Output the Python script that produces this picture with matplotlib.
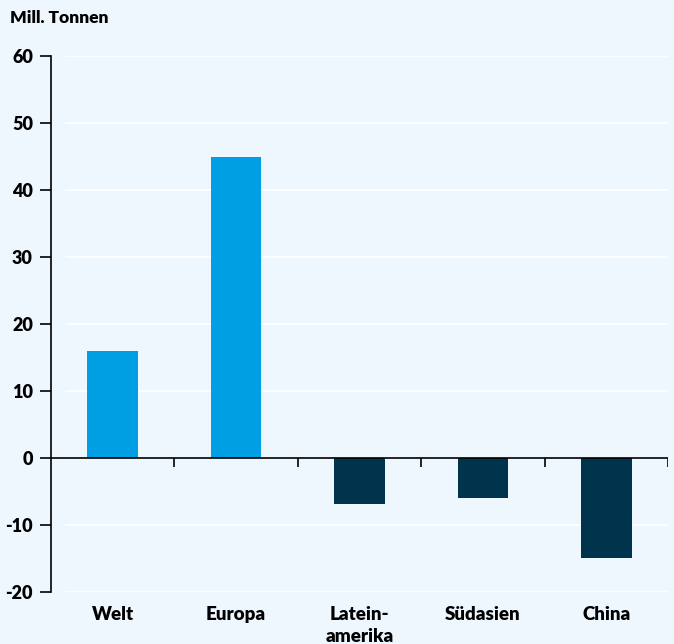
import matplotlib.pyplot as plt

plt.rcParams['font.family'] = ['Lato', 'DejaVu Sans']
plt.rcParams['font.weight'] = 'bold'

regions = ['Welt', 'Europa', 'Latein-\namerika', 'Südasien', 'China']
values = [15.9, 44.9, -6.9, -5.9, -14.9]
bar_colors = ['#009fe3', '#009fe3', '#00344d', '#00344d', '#00344d']
yticks = [-20, -10, 0, 10, 20, 30, 40, 50, 60]

bg = '#eef6fe'
fig = plt.figure(figsize=(6.74, 6.44), dpi=100, facecolor=bg)
ax = fig.add_axes([51 / 674, 1 - 592 / 644, 617 / 674, 536 / 644], facecolor=bg)

xs = [i + 0.5 for i in range(len(regions))]
for t in yticks:
    if t != 0:
        ax.axhline(t, xmin=15 / 617, xmax=1, color='white', lw=1.2, zorder=1)
ax.bar(xs, values, width=0.41, color=bar_colors, zorder=2)
ax.axhline(0, color='black', lw=1.2, zorder=3)
ax.vlines(range(1, len(regions) + 1), -1.3, 0, color='black', lw=1.2, zorder=3)

ax.set_xlim(0, len(regions))
ax.set_ylim(-20, 60)
ax.set_yticks(yticks)
ax.set_yticklabels([str(t) for t in yticks], fontsize=13, fontweight='heavy')
ax.set_xticks(xs)
ax.set_xticklabels(regions, fontsize=13.5, fontweight='heavy', linespacing=1.4)
ax.tick_params(axis='x', length=0, pad=10)
ax.tick_params(axis='y', length=8, width=1.2, pad=5)
for s in ['top', 'right', 'bottom']:
    ax.spines[s].set_visible(False)
ax.spines['left'].set_linewidth(1.2)

fig.text(10 / 674, 1 - 18 / 644, 'Mill. Tonnen', fontsize=12.5, fontweight='heavy', va='center', ha='left')

fig.savefig('out.png', dpi=100, facecolor=bg)
